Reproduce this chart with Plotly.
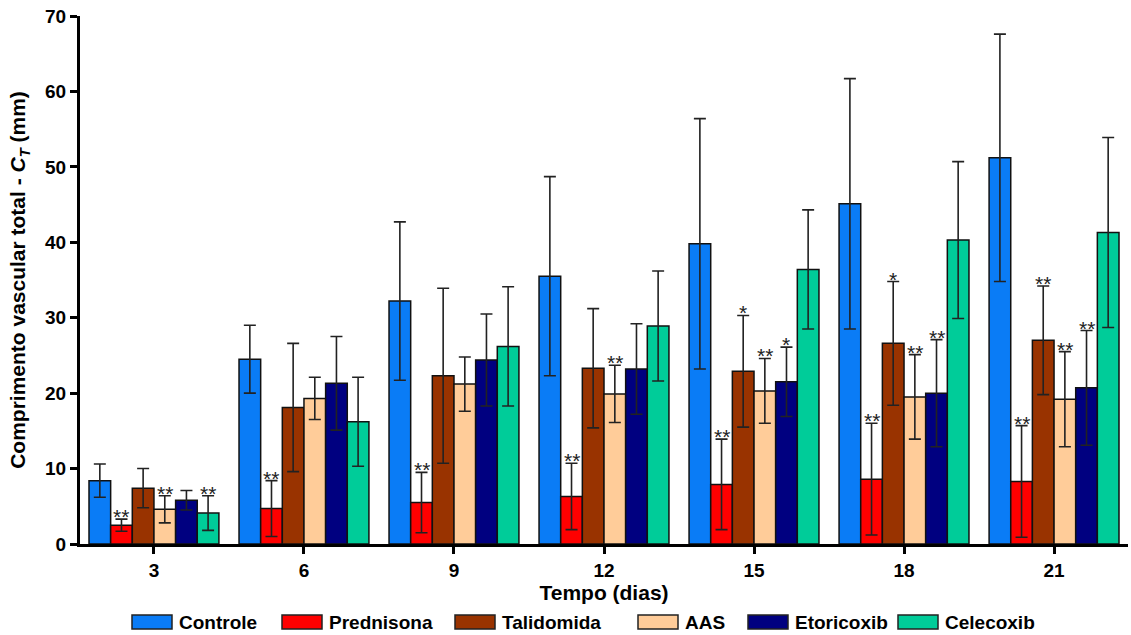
import plotly.graph_objects as go

days = ["3", "6", "9", "12", "15", "18", "21"]
series_names = ["Controle", "Prednisona", "Talidomida", "AAS", "Etoricoxib", "Celecoxib"]

controle = [8.4, 24.5, 32.2, 35.5, 39.8, 45.1, 51.2]
controle_err = [2.2, 4.5, 10.5, 13.2, 16.6, 16.6, 16.4]
prednisona = [2.5, 4.7, 5.5, 6.3, 7.9, 8.6, 8.3]
prednisona_err = [0.8, 3.7, 4.0, 4.4, 6.0, 7.4, 7.4]
talidomida = [7.4, 18.1, 22.3, 23.3, 22.9, 26.6, 27.0]
talidomida_err = [2.6, 8.5, 11.6, 7.9, 7.4, 8.2, 7.2]
aas = [4.6, 19.3, 21.2, 19.9, 20.3, 19.5, 19.2]
aas_err = [1.8, 2.8, 3.6, 3.8, 4.3, 5.6, 6.3]
etoricoxib = [5.8, 21.3, 24.4, 23.2, 21.5, 20.0, 20.7]
etoricoxib_err = [1.3, 6.2, 6.1, 6.0, 4.6, 7.1, 7.6]
celecoxib = [4.1, 16.2, 26.2, 28.9, 36.4, 40.3, 41.3]
celecoxib_err = [2.3, 5.9, 7.9, 7.3, 7.9, 10.4, 12.6]

controle_sig = ["", "", "", "", "", "", ""]
prednisona_sig = ["**", "**", "**", "**", "**", "**", "**"]
talidomida_sig = ["", "", "", "", "*", "*", "**"]
aas_sig = ["**", "", "", "**", "**", "**", "**"]
etoricoxib_sig = ["", "", "", "", "*", "**", "**"]
celecoxib_sig = ["**", "", "", "", "", "", ""]

colors = ["#0a7cf6", "#ff0000", "#993300", "#ffcc99", "#000080", "#00cc99"]

means = [controle, prednisona, talidomida, aas, etoricoxib, celecoxib]
errs = [controle_err, prednisona_err, talidomida_err, aas_err, etoricoxib_err, celecoxib_err]
sigs = [controle_sig, prednisona_sig, talidomida_sig, aas_sig, etoricoxib_sig, celecoxib_sig]

FONT = "Liberation Sans, Arial, sans-serif"
W, H = 1131, 635
ML, MT = 80, 16
PLOT_RIGHT, PLOT_BOTTOM = 1128, 544
MR, MB = W - PLOT_RIGHT, H - PLOT_BOTTOM
PW, PH = PLOT_RIGHT - ML, PLOT_BOTTOM - MT

xpos = list(range(len(days)))
bargap = 0.134
nser = len(series_names)
bw = (1 - bargap) / nser

fig = go.Figure()
for i, name in enumerate(series_names):
    fig.add_trace(go.Bar(
        x=xpos, y=means[i], name=name, showlegend=False,
        marker=dict(color=colors[i], line=dict(color="#111111", width=1.5)),
        error_y=dict(type="data", array=errs[i], visible=True,
                     color="#222222", thickness=1.6, width=6),
    ))

annotations = []
for i in range(nser):
    off = -(1 - bargap) / 2 + bw * (i + 0.5)
    for j, s in enumerate(sigs[i]):
        if s:
            annotations.append(dict(
                x=xpos[j] + off, y=means[i][j] + errs[i][j], text=s,
                showarrow=False, xref="x", yref="y",
                yanchor="bottom", yshift=-11,
                font=dict(family=FONT, size=21, color="#222222"),
            ))

# custom legend (wide swatches like the original), positions in window pixels
legend_left_px = [132, 282, 455, 638, 748, 898]
legend_y_px = 622
shapes = []
for i, name in enumerate(series_names):
    lx = legend_left_px[i]
    ly = legend_y_px
    shapes.append(dict(type="rect", xref="paper", yref="paper",
                       x0=(lx - ML) / PW, x1=(lx + 40 - ML) / PW,
                       y0=(PLOT_BOTTOM - (ly + 7)) / PH, y1=(PLOT_BOTTOM - (ly - 7)) / PH,
                       fillcolor=colors[i], line=dict(color="#222222", width=1.5)))
    annotations.append(dict(
        x=(lx + 45 - ML) / PW, y=(PLOT_BOTTOM - ly) / PH,
        xref="paper", yref="paper", xanchor="left", yanchor="middle",
        text=name, showarrow=False,
        font=dict(family=FONT, size=19, weight="bold", color="black"),
    ))

fig.update_layout(
    width=W, height=H,
    barmode="group", bargap=bargap, bargroupgap=0,
    plot_bgcolor="white", paper_bgcolor="white",
    margin=dict(l=ML, r=MR, t=MT, b=MB),
    font=dict(family=FONT, color="black"),
    annotations=annotations,
    shapes=shapes,
    showlegend=False,
    xaxis=dict(
        tickmode="array", tickvals=xpos, ticktext=days,
        range=[-0.493, 6.493], automargin=False,
        showline=True, linecolor="black", linewidth=3,
        ticks="outside", ticklen=7, tickwidth=3, tickcolor="black",
        tickfont=dict(family=FONT, size=19, weight="bold"),
        ticklabeloverflow="allow",
        showgrid=False, zeroline=False,
        title=dict(text="Tempo (dias)", standoff=0,
                   font=dict(family=FONT, size=21, weight="bold")),
    ),
    yaxis=dict(
        range=[0, 70], dtick=10, automargin=False,
        showline=True, linecolor="black", linewidth=3,
        ticks="outside", ticklen=7, tickwidth=3, tickcolor="black",
        tickfont=dict(family=FONT, size=19, weight="bold"),
        ticklabeloverflow="allow",
        showgrid=False, zeroline=False,
        title=dict(text="Comprimento vascular total - <i>C<sub>T</sub></i> (mm)", standoff=14,
                   font=dict(family=FONT, size=21, weight="bold")),
    ),
)

fig.write_html("out.html",
               config={"displayModeBar": False},
               post_script="document.body.style.margin='0';document.body.style.overflow='hidden';")
